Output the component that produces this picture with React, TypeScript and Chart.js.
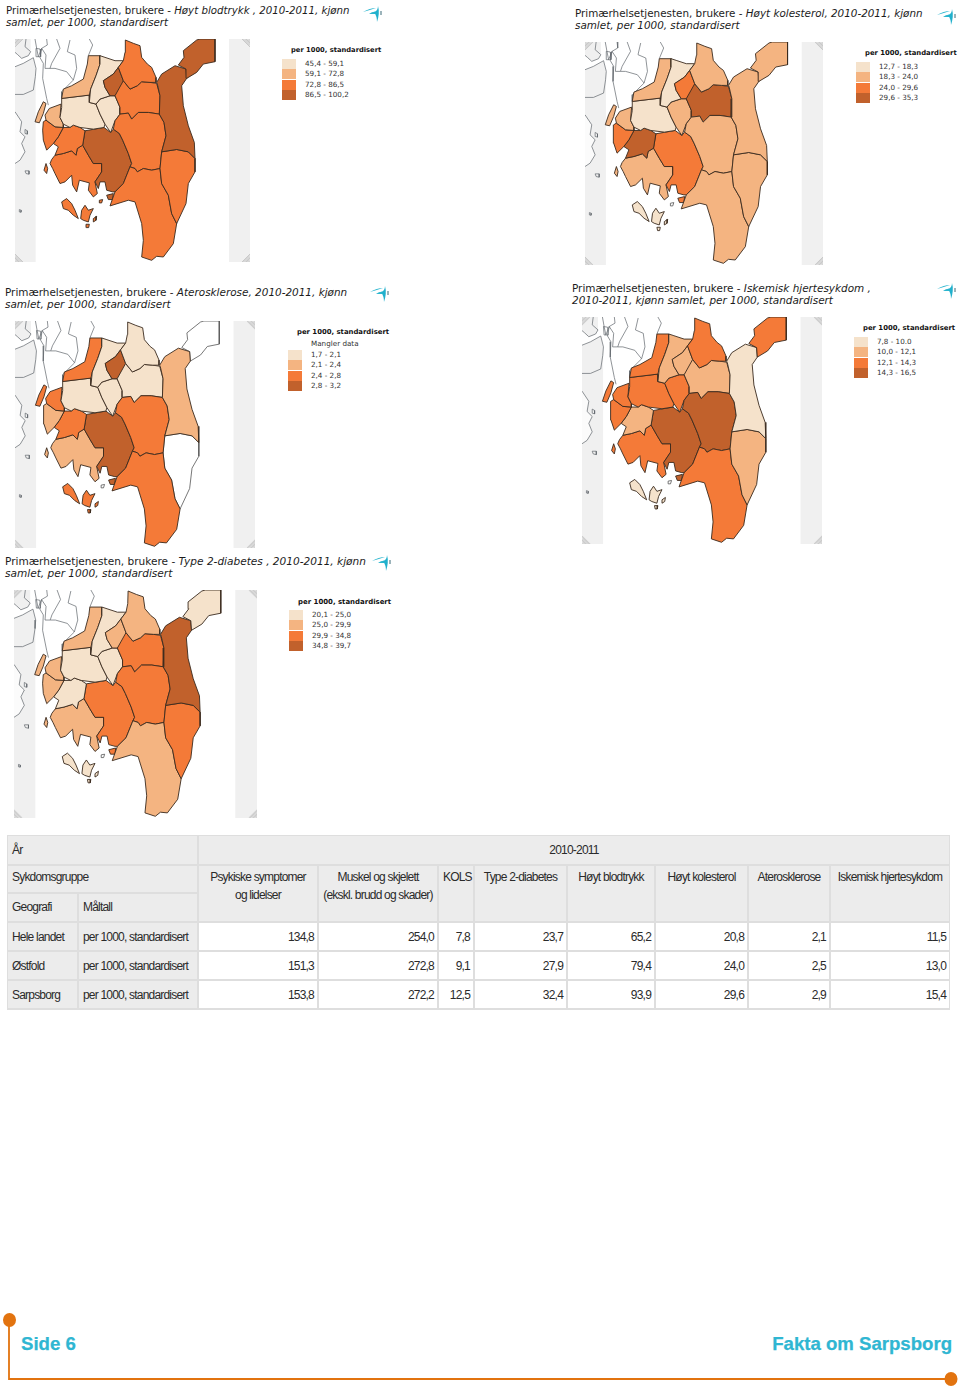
import React, { useEffect, useRef } from "react";
import { Chart, registerables } from "chart.js";
Chart.register(...registerables);

type Pt = [number, number];

// ---- map outlines in map units -------------------------------------------
const regionNames = ["A","B","C","D","E","F","G","H","I","J","K","L","M","N","O","P","Q","R","S","T","U","V","W","X","Y"];
const regionShapes: Pt[][] = [
  [[376,120],[400,130],[420,137],[425,172],[442,192],[455,202],[468,232],[468,247],[450,247],[425,245],[412,257],[390,267],[370,242],[355,202],[370,182],[375,157]],
  [[590,120],[600,117],[645,117],[645,185],[610,192],[590,217],[560,235],[558,207],[535,195],[552,172],[550,152]],
  [[470,247],[485,222],[525,197],[558,207],[560,235],[545,257],[550,317],[565,377],[583,427],[585,475],[565,455],[530,448],[485,455],[498,407],[492,367],[478,342],[480,287],[472,252]],
  [[485,455],[530,448],[565,455],[585,475],[585,515],[565,550],[558,610],[530,670],[515,640],[505,585],[485,550],[480,505]],
  [[390,500],[405,505],[412,515],[430,505],[455,510],[480,505],[485,550],[505,585],[515,640],[530,670],[520,730],[490,770],[470,768],[455,780],[425,770],[430,720],[425,670],[405,605],[385,600],[330,617],[345,575],[370,550]],
  [[360,342],[385,339],[395,357],[415,337],[445,337],[478,342],[492,367],[498,407],[485,455],[480,505],[455,510],[430,505],[412,515],[405,505],[390,500],[395,490],[385,460],[368,420],[358,400],[340,387],[345,362]],
  [[345,287],[370,242],[390,267],[412,257],[425,245],[450,247],[470,250],[480,287],[478,342],[445,337],[415,337],[395,357],[385,339],[360,342],[360,322]],
  [[310,242],[340,222],[355,202],[370,242],[372,257],[345,287],[330,287],[315,262]],
  [[300,167],[315,172],[345,182],[370,182],[355,202],[340,222],[310,242],[315,262],[330,287],[300,297],[288,312],[268,307],[272,267],[288,227],[300,192]],
  [[288,312],[300,297],[330,287],[345,287],[360,322],[360,342],[345,362],[332,397],[315,372],[300,342]],
  [[265,167],[300,167],[300,192],[288,227],[272,267],[268,285],[185,295],[190,267],[215,257],[250,237],[262,192]],
  [[185,295],[268,285],[268,307],[288,312],[300,342],[315,372],[312,382],[280,387],[240,382],[220,375],[210,382],[190,372],[180,352],[185,322]],
  [[148,325],[183,312],[180,352],[190,372],[190,382],[165,380],[138,360],[135,345]],
  [[130,305],[138,310],[130,340],[118,368],[105,365],[115,335]],
  [[130,365],[138,360],[165,380],[190,382],[175,410],[160,430],[140,450],[130,420],[128,390]],
  [[190,382],[210,382],[220,375],[240,382],[255,392],[248,435],[232,445],[228,465],[215,452],[190,460],[165,465],[175,440],[160,430],[175,410]],
  [[255,392],[312,382],[332,397],[340,387],[358,400],[368,420],[385,460],[395,490],[390,500],[370,550],[345,575],[338,575],[320,570],[315,545],[300,545],[295,565],[285,545],[305,515],[305,490],[280,490],[265,465],[248,435]],
  [[165,465],[190,460],[215,452],[228,465],[232,445],[248,435],[265,465],[280,490],[305,490],[305,515],[285,545],[292,580],[280,590],[265,570],[268,548],[238,540],[230,575],[218,555],[215,525],[195,545],[180,550],[165,520],[158,505],[150,490],[155,478]],
  [[138,490],[143,505],[140,520],[132,510]],
  [[320,585],[340,580],[338,598],[325,598]],
  [[185,605],[200,595],[215,610],[225,630],[235,655],[220,645],[205,630],[190,625]],
  [[245,630],[255,615],[265,630],[280,625],[270,645],[265,665],[250,660],[242,655]],
  [[280,655],[290,648],[288,660],[280,665]],
  [[258,672],[268,672],[266,682],[260,682]],
  [[298,600],[308,598],[305,608],[298,608]],
];
const neighbourLines: Pt[][] = [
  [[78,117],[75,140],[92,155],[85,167],[65,175],[52,163],[45,157]],
  [[45,200],[70,190],[100,173],[108,205],[106,230],[100,270],[70,283],[45,283]],
  [[105,117],[110,145],[115,170],[125,145],[120,173],[130,190],[128,235],[140,295],[145,315]],
  [[140,117],[142,135],[125,145],[138,165],[135,205],[150,205],[165,205],[200,215],[220,240],[185,275],[185,295]],
  [[170,117],[180,145],[155,190],[150,205]],
  [[210,120],[202,155],[225,165],[230,205],[220,240]],
  [[268,117],[278,135],[265,167]],
  [[108,145],[120,147],[122,170],[110,170],[108,145]],
  [[45,335],[65,365],[60,395],[75,410],[65,430],[75,455],[60,480],[45,490]],
  [[75,388],[82,392],[82,402],[75,400],[75,388]],
  [[75,512],[87,512],[87,522],[78,520],[75,512]],
  [[58,628],[64,630],[63,636],[58,635],[58,628]],
];
const greyBands: Pt[][] = [
  [[45,117],[92,117],[92,155],[85,167],[65,175],[52,163],[45,157]],
  [[45,200],[70,190],[100,173],[107,205],[107,785],[45,785]],
  [[687,117],[750,117],[750,785],[687,785]],
];
const coastWhite: Pt[] = [[45,335],[65,365],[60,395],[75,410],[65,430],[75,455],[60,480],[45,490]];
const hatchOrigins: Pt[] = [[45,117],[725,117],[45,760],[725,760]];

// ---- class of each region (0 none, 1..4 legend class) --------------------
const hoytBlodtrykk = [3,4,4,3,3,3,3,4,1,1,2,1,2,2,3,3,4,3,3,4,3,3,3,3,3];
const hoytKolesterol = [2,2,2,2,2,2,4,3,1,2,2,1,2,2,3,4,3,2,2,3,1,1,1,1,0];
const aterosklerose = [1,0,2,0,3,3,1,4,1,1,3,1,3,3,2,3,4,2,2,4,3,3,3,3,0];
const iskemisk = [3,3,1,2,3,4,2,2,2,3,3,3,3,3,3,2,4,3,3,4,1,1,1,1,0];
const diabetes = [2,1,4,3,2,3,3,2,1,1,2,1,2,2,2,1,3,2,2,3,1,1,1,1,0];

const classColours = ["#ffffff", "#f5e2cb", "#f4b481", "#f47a38", "#c1612c"];

// ---- legend ranges --------------------------------------------------------
const rangesBlodtrykk = ["45,4 - 59,1", "59,1 - 72,8", "72,8 - 86,5", "86,5 - 100,2"];
const rangesKolesterol = ["12,7 - 18,3", "18,3 - 24,0", "24,0 - 29,6", "29,6 - 35,3"];
const rangesAteros = ["Mangler data", "1,7 - 2,1", "2,1 - 2,4", "2,4 - 2,8", "2,8 - 3,2"];
const rangesIskemisk = ["7,8 - 10.0", "10,0 - 12,1", "12,1 - 14,3", "14,3 - 16,5"];
const rangesDiabetes = ["20,1 - 25,0", "25,0 - 29,9", "29,9 - 34,8", "34,8 - 39,7"];

type Panel = {
  name: string; tail: string[]; classes: number[]; ranges: string[]; titleSize: number;
  box: [number, number, number, number]; titleAt: [number, number]; iconAt: [number, number];
  legendAt: [number, number]; swatchTop: number; rowH: number; firstClass: number;
};
const panels: Panel[] = [
  { name: "Høyt blodtrykk", tail: [" , 2010-2011, kjønn", "samlet, per 1000, standardisert"], classes: hoytBlodtrykk, ranges: rangesBlodtrykk, titleSize: 10.22,
    box: [15, 39, 235, 223], titleAt: [6, 5], iconAt: [363, 6], legendAt: [282, 50], swatchTop: 58.5, rowH: 10.5, firstClass: 1 },
  { name: "Høyt kolesterol", tail: [", 2010-2011, kjønn", "samlet, per 1000, standardisert"], classes: hoytKolesterol, ranges: rangesKolesterol, titleSize: 10.38,
    box: [585, 42, 238, 223], titleAt: [575, 7], iconAt: [937, 9], legendAt: [856, 53], swatchTop: 61.5, rowH: 10.5, firstClass: 1 },
  { name: "Aterosklerose", tail: [", 2010-2011, kjønn", "samlet, per 1000, standardisert"], classes: aterosklerose, ranges: rangesAteros, titleSize: 10.45,
    box: [15, 321, 240, 227], titleAt: [5, 286], iconAt: [370, 286], legendAt: [288, 332], swatchTop: 339, rowH: 10.5, firstClass: 0 },
  { name: "Iskemisk hjertesykdom", tail: [" ,", "2010-2011, kjønn samlet, per 1000, standardisert"], classes: iskemisk, ranges: rangesIskemisk, titleSize: 10.45,
    box: [582, 317, 240, 227], titleAt: [572, 282], iconAt: [937, 283], legendAt: [854, 328], swatchTop: 336.5, rowH: 10.5, firstClass: 1 },
  { name: "Type 2-diabetes", tail: [" , 2010-2011, kjønn", "samlet, per 1000, standardisert"], classes: diabetes, ranges: rangesDiabetes, titleSize: 10.55,
    box: [14, 590, 243, 228], titleAt: [5, 555], iconAt: [372, 555], legendAt: [289, 602], swatchTop: 609.5, rowH: 10.5, firstClass: 1 },
];

// ---- table ----------------------------------------------------------------
const columnHeads = [["Psykiske symptomer", "og lidelser"], ["Muskel og skjelett", "(ekskl. brudd og skader)"], ["KOLS"], ["Type 2-diabetes"], ["Høyt blodtrykk"], ["Høyt kolesterol"], ["Aterosklerose"], ["Iskemisk hjertesykdom"]];
const geographies = ["Hele landet", "Østfold", "Sarpsborg"];
const measure = "per 1000, standardisert";
const heleLandet = ["134,8", "254,0", "7,8", "23,7", "65,2", "20,8", "2,1", "11,5"];
const ostfold = ["151,3", "272,8", "9,1", "27,9", "79,4", "24,0", "2,5", "13,0"];
const sarpsborg = ["153,8", "272,2", "12,5", "32,4", "93,9", "29,6", "2,9", "15,4"];
const rowValues = [heleLandet, ostfold, sarpsborg];
const colEdges = [7, 78, 198, 318, 438, 474, 567, 655, 748, 830, 950];
const rowTops = [923, 952, 981];

const closeRing = (p: Pt[]) => [...p, p[0]].map(([x, y]) => ({ x, y }));
const open = (p: Pt[]) => p.map(([x, y]) => ({ x, y }));

function hatchData() {
  const out: any[] = [];
  const gap = { x: 0, y: null };
  const size = 25;
  hatchOrigins.forEach(([cx, cy], corner) => {
    for (let i = 4; i <= size; i += 4) {
      if (corner === 0) out.push({ x: cx + i, y: cy }, { x: cx, y: cy + i }, gap);
      if (corner === 1) out.push({ x: cx + size - i, y: cy }, { x: cx + size, y: cy + i }, gap);
      if (corner === 2) out.push({ x: cx, y: cy + size - i }, { x: cx + i, y: cy + size }, gap);
      if (corner === 3) out.push({ x: cx + size, y: cy + size - i }, { x: cx + size - i, y: cy + size }, gap);
    }
  });
  return out;
}

function MapChart({ panel }: { panel: Panel }) {
  const ref = useRef<HTMLCanvasElement>(null);
  useEffect(() => {
    const datasets: any[] = [];
    const base = { showLine: true, pointRadius: 0, tension: 0, pointHoverRadius: 0 };
    regionShapes.forEach((shape, i) => {
      const cls = panel.classes[i];
      if (cls > 0) datasets.push({ ...base, label: regionNames[i], data: closeRing(shape), fill: "shape", backgroundColor: classColours[cls], borderColor: "#3a2a1e", borderWidth: 0.9 });
    });
    regionShapes.forEach((shape, i) => {
      if (panel.classes[i] === 0) datasets.push({ ...base, label: regionNames[i], data: closeRing(shape), fill: "shape", backgroundColor: "#ffffff", borderColor: "#555555", borderWidth: 0.8 });
    });
    neighbourLines.forEach((line, i) => datasets.push({ ...base, label: "n" + i, data: open(line), fill: false, borderColor: "#60666c", borderWidth: 0.7 }));
    datasets.push({ ...base, label: "coast", data: closeRing(coastWhite), fill: "shape", backgroundColor: "#fbfbfb", borderWidth: 0, borderColor: "transparent" });
    datasets.push({ ...base, label: "hatch", data: hatchData(), fill: false, borderColor: "#b8b8b8", borderWidth: 0.7, spanGaps: false });
    greyBands.forEach((band, i) => datasets.push({ ...base, label: "b" + i, data: closeRing(band), fill: "shape", backgroundColor: "#f0f0f0", borderWidth: 0, borderColor: "transparent" }));

    const chart = new Chart(ref.current!, {
      type: "scatter",
      data: { datasets },
      options: {
        animation: false, responsive: false, maintainAspectRatio: false,
        layout: { padding: 0 },
        plugins: { legend: { display: false }, tooltip: { enabled: false }, title: { display: false } },
        scales: {
          x: { type: "linear", min: 45, max: 750, display: false },
          y: { type: "linear", min: 117, max: 785, reverse: true, display: false },
        },
      },
    });
    return () => chart.destroy();
  }, [panel]);
  const [l, t, w, h] = panel.box;
  return <canvas ref={ref} width={w} height={h} style={{ position: "absolute", left: l, top: t, width: w, height: h }} />;
}

const abs = (left: number, top: number, extra: React.CSSProperties = {}): React.CSSProperties => ({ position: "absolute", left, top, whiteSpace: "pre", ...extra });
const titleFont = { fontFamily: "'DejaVu Sans'", lineHeight: "12px", color: "#1c1c1c" };
const tableFont = { fontFamily: "'Liberation Sans'", fontSize: 12, letterSpacing: "-0.8px", color: "#2a2a2a", lineHeight: "18px" };

function Icon({ x, y }: { x: number; y: number }) {
  return (
    <svg style={{ position: "absolute", left: x, top: y }} width={19} height={17} viewBox="0 0 19 17">
      <path d="M0 6 Q7 2 13 2 Q7 4 0 6Z" fill="#2bb6cf" />
      <path d="M6 8 Q10 5 13 6 L12 8 Z" fill="#2bb6cf" />
      <path d="M11 6 Q15 5 15 0 Q17 7 14 16 Q14 10 11 6Z" fill="#20b0cc" />
      <rect x="17.5" y="5" width="1" height="4" fill="#3a6a78" />
    </svg>
  );
}

function PanelView({ panel }: { panel: Panel }) {
  const [lx, ly] = panel.legendAt;
  return (
    <>
      <div style={abs(panel.titleAt[0], panel.titleAt[1], { ...titleFont, fontSize: panel.titleSize })}>
        {"Primærhelsetjenesten, brukere - "}<i>{panel.name}{panel.tail[0]}</i>{"\n"}<i>{panel.tail[1]}</i>
      </div>
      <Icon x={panel.iconAt[0]} y={panel.iconAt[1]} />
      <MapChart panel={panel} />
      <div style={abs(lx + 9, ly - 5, { fontFamily: "'DejaVu Sans'", fontWeight: 700, fontSize: panel.titleSize * 0.66, lineHeight: "10px", color: "#111" })}>per 1000, standardisert</div>
      {panel.ranges.map((r, i) => (
        <React.Fragment key={r}>
          <div style={abs(lx, panel.swatchTop + i * panel.rowH, { width: 14, height: panel.rowH - 0.5, background: classColours[panel.firstClass + i] })} />
          <div style={abs(lx + 23, panel.swatchTop + i * panel.rowH, { fontFamily: "'DejaVu Sans'", fontSize: 7.2, lineHeight: panel.rowH + "px", color: "#333" })}>{r}</div>
        </React.Fragment>
      ))}
    </>
  );
}

function Cell({ x0, x1, y0, y1, bg, text, align = "left", lines, padTop = 5 }: { x0: number; x1: number; y0: number; y1: number; bg: string; text?: string; align?: "left" | "right" | "center"; lines?: string[]; padTop?: number }) {
  return (
    <div style={{ position: "absolute", left: colEdges[x0] + 1, top: y0, width: colEdges[x1] - colEdges[x0] - 2, height: y1 - y0, background: bg, boxSizing: "border-box", padding: align === "center" ? `${padTop}px 0 0` : `${padTop}px 3px 0 4px`, textAlign: align, whiteSpace: "pre", overflow: "hidden", ...tableFont }}>
      {lines ? lines.join("\n") : text}
    </div>
  );
}

function TableView() {
  const head = "#ececec";
  return (
    <>
      <div style={{ position: "absolute", left: 7, top: 835, width: 943, height: 175, background: "#dedede" }} />
      <Cell x0={0} x1={2} y0={836} y1={864} bg={head} text="År" />
      <Cell x0={2} x1={10} y0={836} y1={864} bg={head} text="2010-2011" align="center" />
      <Cell x0={0} x1={2} y0={866} y1={892} bg={head} text="Sykdomsgruppe" padTop={2} />
      <Cell x0={0} x1={1} y0={894} y1={921} bg={head} text="Geografi" padTop={4} />
      <Cell x0={1} x1={2} y0={894} y1={921} bg={head} text="Måltall" padTop={4} />
      {columnHeads.map((h, i) => (
        <Cell key={h[0]} x0={i + 2} x1={i + 3} y0={866} y1={921} bg={head} lines={h} padTop={2} align={i === 2 ? "left" : "center"} />
      ))}
      {geographies.map((g, r) => (
        <React.Fragment key={g}>
          <Cell x0={0} x1={1} y0={rowTops[r]} y1={rowTops[r] + 27} bg={head} text={g} />
          <Cell x0={1} x1={2} y0={rowTops[r]} y1={rowTops[r] + 27} bg={head} text={measure} />
          {rowValues[r].map((v, c) => (
            <Cell key={c} x0={c + 2} x1={c + 3} y0={rowTops[r]} y1={rowTops[r] + 27} bg="#ffffff" text={v} align="right" />
          ))}
        </React.Fragment>
      ))}
    </>
  );
}

function Footer() {
  const orange = "#e2730f";
  const cyan = "#2fb6d2";
  const font: React.CSSProperties = { fontFamily: "'Liberation Sans'", fontWeight: 700, fontSize: 18.6, lineHeight: "20px", color: cyan, WebkitTextStroke: "0.25px " + cyan };
  return (
    <>
      <svg style={{ position: "absolute", left: 0, top: 1300 }} width={960} height={87}>
        <path d="M9 20 V79 H950" fill="none" stroke={orange} strokeWidth={1.8} />
        <ellipse cx={9.5} cy={20} rx={6.5} ry={7} fill={orange} />
        <ellipse cx={951} cy={79} rx={6.5} ry={7} fill={orange} />
      </svg>
      <div style={abs(21, 1334, font)}>Side 6</div>
      <div style={{ ...abs(0, 1334, font), left: "auto", right: 8 }}>Fakta om Sarpsborg</div>
    </>
  );
}

export default function App() {
  return (
    <div style={{ position: "absolute", left: 0, top: 0, width: 960, height: 1387, overflow: "hidden", background: "#fff" }}>
      {panels.map((p) => <PanelView key={p.name} panel={p} />)}
      <TableView />
      <Footer />
    </div>
  );
}
